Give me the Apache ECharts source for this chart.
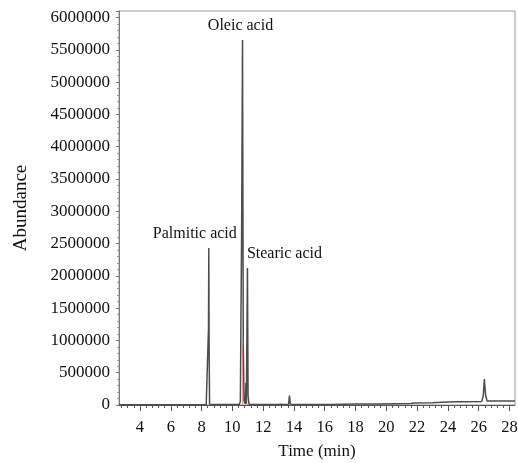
<!DOCTYPE html>
<html>
<head>
<meta charset="utf-8">
<script src="https://cdn.jsdelivr.net/npm/echarts@6/dist/echarts.min.js"></script>
<style>
  html, body { margin: 0; padding: 0; background: #fff; }
  #chart { width: 518px; height: 463px; }
</style>
</head>
<body>
<div id="chart"></div>
<script>
// GC chromatogram: retention time (min) vs. detector abundance
const retentionTime = [
  2.64, 8.30, 8.42, 8.45, 8.47, 8.49, 8.52,
  10.45, 10.52, 10.56, 10.60, 10.66, 10.71, 10.76, 10.84, 10.88, 10.91,
  10.94, 10.98, 11.02, 11.08, 11.30,
  13.00, 13.10, 13.15, 13.22, 13.30, 13.65, 13.71, 13.77,
  16.40, 16.50, 18.00, 19.50, 20.50, 21.60, 21.80, 23.00, 23.60, 24.60,
  25.20, 26.20, 26.30, 26.37, 26.45, 26.55, 27.50, 28.36
];
const abundance = [
  4000, 4000, 8000, 1190000, 2430000, 900000, 8000,
  8000, 60000, 1400000, 2600000, 5650000, 900000, 60000, 15000, 340000, 20000,
  30000, 2120000, 150000, 10000, 6000,
  6000, 28000, 10000, 35000, 9000, 8000, 145000, 8000,
  8000, 15000, 14000, 16000, 20000, 22000, 30000, 35000, 42000, 50000,
  52000, 55000, 150000, 400000, 150000, 60000, 60000, 62000
];

// Named fatty-acid peaks
const peakNames = ['Palmitic acid', 'Oleic acid', 'Stearic acid'];
const peakTimes = [8.47, 10.66, 10.98];
const peakHeights = [2430000, 5650000, 2120000];

// Integration markers (red) at peak starts
const integrationTimes = [8.47, 10.63, 10.95, 11.02, 13.73];
const integrationHeights = [15000, 930000, 20000, 15000, 15000];

// Axis ticks
const timeTicks = [4, 6, 8, 10, 12, 14, 16, 18, 20, 22, 24, 26, 28];
const abundanceTicks = [0, 500000, 1000000, 1500000, 2000000, 2500000, 3000000,
  3500000, 4000000, 4500000, 5000000, 5500000, 6000000];

const timeMin = 2.636, timeMax = 28.36;
const FONT = '"Liberation Serif", "Times New Roman", serif';

// minor time ticks every 0.4 min, skipping the labelled ones
const timeMinorTicks = [];
for (let k = 7; k * 0.4 <= timeMax; k++) {
  const v = Math.round(k * 4) / 10;
  if (timeTicks.indexOf(v) < 0) timeMinorTicks.push(v);
}

const traceData = retentionTime.map((t, i) => [t, abundance[i]]);
const labelShift = { 'Palmitic acid': -14, 'Oleic acid': -2, 'Stearic acid': 37 };

const chart = echarts.init(document.getElementById('chart'), null, { renderer: 'canvas' });
chart.setOption({
  animation: false,
  backgroundColor: '#fff',
  grid: {
    left: 119, right: 3, top: 11, bottom: 58,
    outerBoundsMode: 'none', containLabel: false,
    show: true, borderColor: '#9a9a9a', borderWidth: 1, backgroundColor: 'transparent'
  },
  xAxis: [
    {
      type: 'value', min: timeMin, max: timeMax, position: 'bottom',
      name: 'Time (min)', nameLocation: 'middle', nameGap: 38,
      nameTextStyle: { fontFamily: FONT, fontSize: 17, color: '#111' },
      axisLine: { show: true, lineStyle: { color: '#555', width: 1 } },
      axisTick: { show: true, customValues: timeTicks, length: 6, lineStyle: { color: '#555' } },
      axisLabel: {
        customValues: timeTicks, margin: 14, hideOverlap: false,
        fontFamily: FONT, fontSize: 16.5, color: '#111',
        formatter: v => String(v)
      },
      splitLine: { show: false }
    },
    {
      type: 'value', min: timeMin, max: timeMax, position: 'bottom',
      axisLine: { show: false },
      axisTick: { show: true, customValues: timeMinorTicks, length: 3, lineStyle: { color: '#555' } },
      axisLabel: { show: false },
      splitLine: { show: false }
    }
  ],
  yAxis: {
    type: 'value', min: 0, max: 6100000, interval: 500000,
    name: 'Abundance', nameLocation: 'middle', nameRotate: 90, nameGap: 88,
    nameTextStyle: { fontFamily: FONT, fontSize: 19, color: '#111' },
    axisLine: { show: true, lineStyle: { color: '#7a7a7a', width: 1 } },
    axisTick: { show: true, length: 3, lineStyle: { color: '#777' } },
    minorTick: { show: true, splitNumber: 5, length: 2, lineStyle: { color: '#999' } },
    axisLabel: {
      showMaxLabel: false, margin: 9,
      fontFamily: FONT, fontSize: 17, color: '#111',
      formatter: v => (abundanceTicks.indexOf(v) >= 0 ? String(v) : '')
    },
    splitLine: { show: false }
  },
  series: [
    {
      type: 'line',
      xAxisIndex: 0,
      data: traceData,
      showSymbol: false,
      symbol: 'none',
      lineStyle: { color: '#4d4d4d', width: 1.5 },
      z: 3,
      markPoint: {
        symbol: 'circle', symbolSize: 0, silent: true,
        label: {
          show: true, position: 'top', distance: 6,
          formatter: '{b}', fontFamily: FONT, fontSize: 16, color: '#111'
        },
        data: peakNames.map((n, i) => ({
          name: n,
          coord: [peakTimes[i], peakHeights[i]],
          label: { offset: [labelShift[n], 0] }
        }))
      },
      markLine: {
        symbol: 'none', silent: true, z: 5,
        label: { show: false },
        lineStyle: { color: '#e8645e', width: 0.8, opacity: 0.8, type: 'solid' },
        data: integrationTimes.map((t, i) => [
          { coord: [t, 0] },
          { coord: [t, integrationHeights[i]] }
        ])
      }
    }
  ]
});
</script>
</body>
</html>
